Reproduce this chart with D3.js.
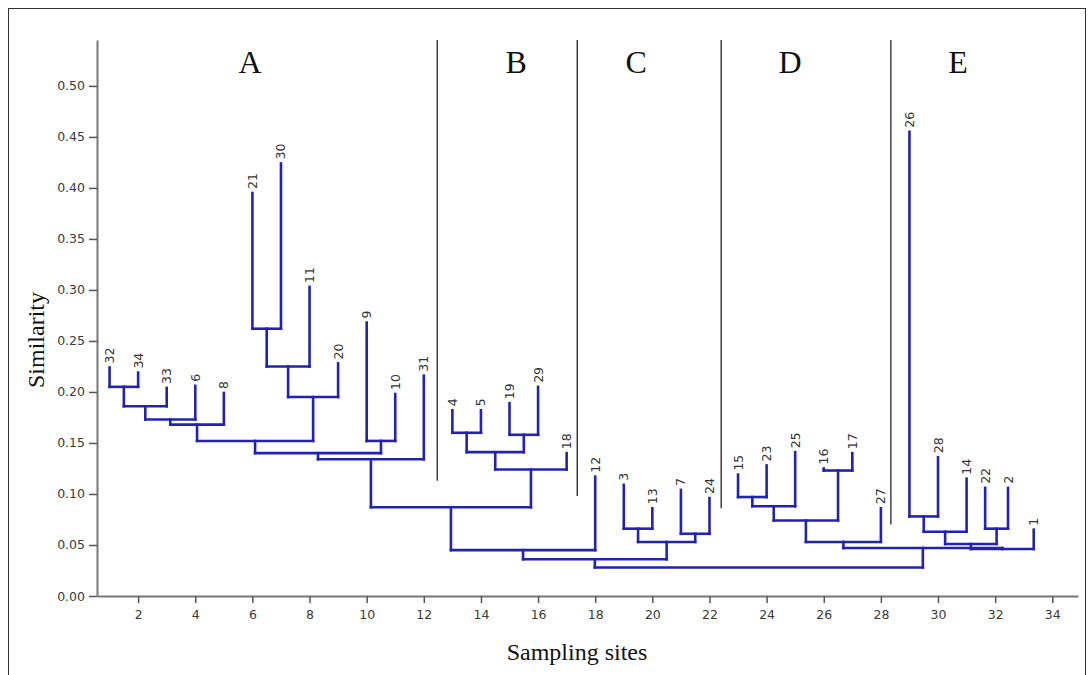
<!DOCTYPE html>
<html>
<head>
<meta charset="utf-8">
<script src="https://cdn.jsdelivr.net/npm/d3@7"></script>
<style>
  body { margin: 0; background: #fff; }
  svg { display: block; }
</style>
</head>
<body>
<svg width="1088" height="675"></svg>
<script>
// leaves, left to right
var leafNames = [32, 34, 33, 6, 8, 21, 30, 11, 20, 9, 10, 31, 4, 5, 19, 29, 18,
  12, 3, 13, 7, 24, 15, 23, 25, 16, 17, 27, 26, 28, 14, 22, 2, 1];
var leafPos = [1, 2, 3, 4, 5, 6, 7, 8, 9, 10, 11, 12, 13, 14, 15, 16, 17,
  18, 19, 20, 21, 22, 23, 24, 25, 26, 27, 28, 29, 30, 31, 31.65, 32.45, 33.35];
var leafHeights = [0.224, 0.219, 0.204, 0.206, 0.199, 0.395, 0.424, 0.303, 0.228, 0.268, 0.198, 0.216,
  0.182, 0.182, 0.189, 0.205, 0.140, 0.117, 0.109, 0.086, 0.104, 0.096,
  0.119, 0.128, 0.141, 0.125, 0.140, 0.086, 0.455, 0.136, 0.115, 0.106, 0.106, 0.065];

// merges: [left, right, similarity]; numbers are sites, "nK" is merge K
var merges = [
  [32, 34, 0.205], ["n0", 33, 0.186], ["n1", 6, 0.173], ["n2", 8, 0.168],
  [21, 30, 0.262], ["n4", 11, 0.225], ["n5", 20, 0.195], ["n3", "n6", 0.152],
  [9, 10, 0.152], ["n7", "n8", 0.140], ["n9", 31, 0.134],
  [4, 5, 0.160], [19, 29, 0.158], ["n11", "n12", 0.141], ["n13", 18, 0.124],
  ["n10", "n14", 0.087], ["n15", 12, 0.045],
  [3, 13, 0.066], [7, 24, 0.061], ["n17", "n18", 0.053], ["n16", "n19", 0.036],
  [15, 23, 0.097], ["n21", 25, 0.088], [16, 17, 0.123], ["n22", "n23", 0.074], ["n24", 27, 0.053],
  [26, 28, 0.078], ["n26", 14, 0.063], [22, 2, 0.066], ["n27", "n28", 0.051], ["n29", 1, 0.046],
  ["n25", "n30", 0.047], ["n20", "n31", 0.028]
];

// cluster labels and where the dividers sit (in site units)
var groupNames = ["A", "B", "C", "D", "E"];
var groupCenters = [5.92, 15.23, 19.43, 24.82, 30.7];
var dividers = [12.47, 17.37, 22.41, 28.35];
var dividerBottoms = [0.113, 0.098, 0.086, 0.070];

var yTicks = [0, 0.05, 0.10, 0.15, 0.20, 0.25, 0.30, 0.35, 0.40, 0.45, 0.50];
var xTicks = [2, 4, 6, 8, 10, 12, 14, 16, 18, 20, 22, 24, 26, 28, 30, 32, 34];

var svg = d3.select("svg");

var x = d3.scaleLinear().domain([0.56, 34.9]).range([97, 1078]),
  y = d3.scaleLinear().domain([0, 0.545]).range([596, 40]);

// frame
svg.append("rect")
  .attr("x", 8.5).attr("y", 8.5)
  .attr("width", 1077).attr("height", 690)
  .attr("fill", "none")
  .attr("stroke", "#333")
  .attr("stroke-width", 1);

// build node positions
var nodes = {};
leafNames.forEach(function(n, i) {
  nodes[n] = { x: leafPos[i], h: leafHeights[i] };
});

var segs = [];
merges.forEach(function(m, i) {
  var a = nodes[m[0]], b = nodes[m[1]], h = m[2];
  segs.push([a.x, a.h, a.x, h]);
  segs.push([b.x, b.h, b.x, h]);
  segs.push([a.x, h, b.x, h]);
  nodes["n" + i] = { x: (a.x + b.x) / 2, h: h };
});

// dividers between clusters
svg.selectAll(".divider")
  .data(dividers)
  .enter().append("line")
  .attr("class", "divider")
  .attr("x1", function(d) { return x(d); })
  .attr("x2", function(d) { return x(d); })
  .attr("y1", y(0.545))
  .attr("y2", function(d, i) { return y(dividerBottoms[i]); })
  .attr("stroke", "#222")
  .attr("stroke-width", 1.3);

svg.selectAll(".group")
  .data(groupNames)
  .enter().append("text")
  .attr("class", "group")
  .attr("x", function(d, i) { return x(groupCenters[i]); })
  .attr("y", 73)
  .attr("text-anchor", "middle")
  .attr("font-family", "Liberation Serif, Times New Roman, serif")
  .attr("font-size", 32)
  .attr("fill", "#111")
  .text(function(d) { return d; });

// axes
var gx = svg.append("g")
  .attr("transform", "translate(0,596)")
  .call(d3.axisBottom(x).tickValues(xTicks).tickSize(7).tickSizeOuter(0).tickFormat(d3.format("d")));

var gy = svg.append("g")
  .attr("transform", "translate(97,0)")
  .call(d3.axisLeft(y).tickValues(yTicks).tickSize(8).tickSizeOuter(0).tickFormat(d3.format(".2f")));

[gx, gy].forEach(function(g) {
  g.select(".domain").attr("stroke", "#777").attr("stroke-width", 2);
  g.selectAll(".tick line").attr("stroke", "#555").attr("stroke-width", 1.5);
  g.selectAll(".tick text")
    .attr("font-family", "DejaVu Sans, Verdana, sans-serif")
    .attr("font-size", 12.5)
    .attr("fill", "#3a3a3a");
});
gx.selectAll(".tick text").attr("dy", "1.05em");
gy.selectAll(".tick text").attr("x", -12);

// dendrogram
svg.append("g")
  .selectAll("line")
  .data(segs)
  .enter().append("line")
  .attr("x1", function(d) { return x(d[0]); })
  .attr("y1", function(d) { return y(d[1]); })
  .attr("x2", function(d) { return x(d[2]); })
  .attr("y2", function(d) { return y(d[3]); })
  .attr("stroke", "#2222b2")
  .attr("stroke-width", 2.6)
  .attr("stroke-linecap", "square");

// leaf labels
svg.selectAll(".leaf")
  .data(leafNames)
  .enter().append("text")
  .attr("class", "leaf")
  .attr("transform", function(d, i) {
    return "translate(" + (x(leafPos[i]) + 4.5) + "," + (y(leafHeights[i]) - 4) + ") rotate(-90)";
  })
  .attr("font-family", "DejaVu Sans, Verdana, sans-serif")
  .attr("font-size", 12.5)
  .attr("fill", "#333")
  .text(function(d) { return d; });

// axis titles
svg.append("text")
  .attr("transform", "translate(44,340) rotate(-90)")
  .attr("text-anchor", "middle")
  .attr("font-family", "Liberation Serif, Times New Roman, serif")
  .attr("font-size", 24)
  .attr("fill", "#111")
  .text("Similarity");

svg.append("text")
  .attr("x", 577)
  .attr("y", 660)
  .attr("text-anchor", "middle")
  .attr("font-family", "Liberation Serif, Times New Roman, serif")
  .attr("font-size", 24)
  .attr("fill", "#111")
  .text("Sampling sites");
</script>
</body>
</html>
